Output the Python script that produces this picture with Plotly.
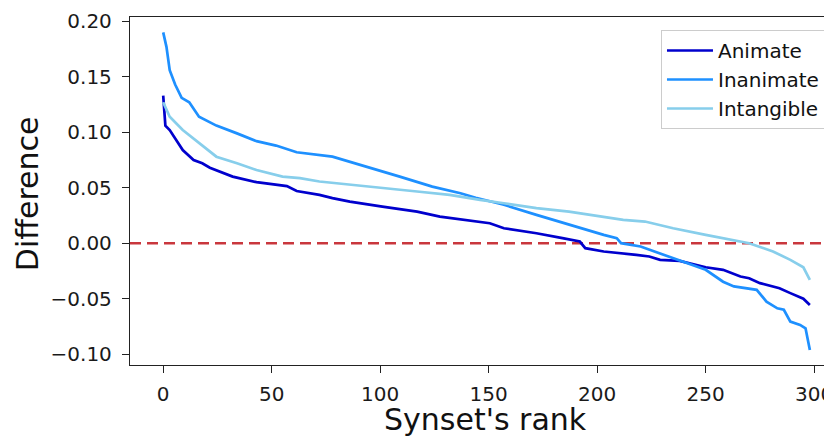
import plotly.graph_objects as go

# ---- data ----
animate_rank = [0, 1, 3, 6, 9, 14, 18, 21.5, 32, 43, 52, 57, 61.5, 72, 78, 86, 101, 117, 127.5,
                144, 150.5, 157, 172, 184, 192, 194.5, 203, 218, 224, 229, 238, 250, 258, 266,
                270, 275, 284, 289, 295, 298]
animate_diff = [0.133, 0.106, 0.102, 0.093, 0.084, 0.075, 0.072, 0.068, 0.060, 0.055, 0.0525,
                0.0515, 0.047, 0.0436, 0.0406, 0.0375, 0.033, 0.0285, 0.024, 0.0195, 0.018,
                0.0135, 0.009, 0.0045, 0.0015, -0.0045, -0.0075, -0.0105, -0.012, -0.015,
                -0.016, -0.0217, -0.024, -0.030, -0.0316, -0.036, -0.0406, -0.045, -0.050,
                -0.0557]

inanimate_rank = [0, 1.5, 3, 5.5, 8.5, 12, 16.5, 24.5, 34, 43, 52, 61.5, 78, 94, 109, 124, 137,
                  144, 157, 172, 187, 203, 209, 211, 220, 235, 250, 258, 263, 273.5, 278, 283,
                  286, 289, 293.5, 296, 298]
inanimate_diff = [0.19, 0.177, 0.156, 0.143, 0.131, 0.127, 0.114, 0.106, 0.099, 0.092, 0.088,
                  0.082, 0.078, 0.069, 0.060, 0.051, 0.045, 0.041, 0.0346, 0.0255, 0.0165,
                  0.0075, 0.0045, 0.0, -0.003, -0.0135, -0.024, -0.0347, -0.039, -0.042,
                  -0.0527, -0.0587, -0.060, -0.0707, -0.0737, -0.0767, -0.0963]

intangible_rank = [0, 3, 9, 17, 24.5, 34, 43, 55, 63, 72, 86, 101, 117, 132, 141, 146, 157, 172,
                   187, 203, 212, 222, 235, 250, 263, 270, 281, 289, 295, 298]
intangible_diff = [0.127, 0.114, 0.102, 0.090, 0.078, 0.072, 0.066, 0.060, 0.0587, 0.0556,
                   0.0526, 0.0496, 0.0466, 0.0436, 0.0406, 0.039, 0.036, 0.0316, 0.0285, 0.024,
                   0.021, 0.0195, 0.0135, 0.0075, 0.003, 0.0, -0.0075, -0.015, -0.0217, -0.033]

x_ticks = [0, 50, 100, 150, 200, 250, 300]
y_ticks = [-0.10, -0.05, 0.00, 0.05, 0.10, 0.15, 0.20]
y_tick_labels = ["\u22120.10", "\u22120.05", "0.00", "0.05", "0.10", "0.15", "0.20"]
x_title = "Synset's rank"
y_title = "Difference"

series = [
    ("Animate", animate_rank, animate_diff, "#0000CD"),
    ("Inanimate", inanimate_rank, inanimate_diff, "#1E90FF"),
    ("Intangible", intangible_rank, intangible_diff, "#87CEEB"),
]

fig = go.Figure()
for name, xs, ys, col in series:
    fig.add_trace(go.Scatter(x=xs, y=ys, mode="lines", name=name,
                             line=dict(color=col, width=2.7)))

fig.add_shape(type="line", xref="paper", x0=0, x1=1, yref="y", y0=0, y1=0,
              line=dict(color="#C9373D", width=2.4, dash="11px,6px"), layer="below")

tick_font = dict(family="DejaVu Sans", size=20, color="#1a1a1a")
label_font = dict(family="DejaVu Sans", size=30, color="#111111")

# page body has an 8px margin: figure is sized/offset to compensate
fig.add_annotation(text=x_title, xref="paper", yref="paper", x=0.5057, y=-0.158,
                   xanchor="center", yanchor="middle", showarrow=False, font=label_font)
fig.add_annotation(text=y_title, xref="paper", yref="paper", x=-0.1467, y=0.491,
                   xanchor="center", yanchor="middle", showarrow=False, textangle=-90,
                   font=label_font)

fig.update_layout(
    width=824, height=431,
    margin=dict(l=122, r=0, t=9, b=74, autoexpand=False),
    paper_bgcolor="white", plot_bgcolor="white",
    showlegend=True,
    legend=dict(x=0.990, xanchor="right", y=0.9626, yanchor="top",
                bgcolor="white", bordercolor="#CCCCCC", borderwidth=1,
                font=dict(family="DejaVu Sans", size=20, color="#111111"),
                tracegroupgap=0, itemwidth=46),
    xaxis=dict(range=[-15.3, 308.2], tickvals=x_ticks, ticks="outside", ticklen=7,
               tickwidth=1.2, tickcolor="#222", showline=True, linecolor="#222", linewidth=1.3,
               mirror=True, showgrid=False, zeroline=False, tickfont=tick_font,
               automargin=False, ticklabelstandoff=4, ticklabeloverflow="allow"),
    yaxis=dict(range=[-0.1098, 0.2039], tickvals=y_ticks, ticktext=y_tick_labels,
               ticks="outside", ticklen=7, tickwidth=1.2, tickcolor="#222", showline=True,
               linecolor="#222", linewidth=1.3, mirror=False, showgrid=False, zeroline=False,
               tickfont=tick_font, automargin=False, ticklabelstandoff=6),
)

fig.write_html("out.html")
